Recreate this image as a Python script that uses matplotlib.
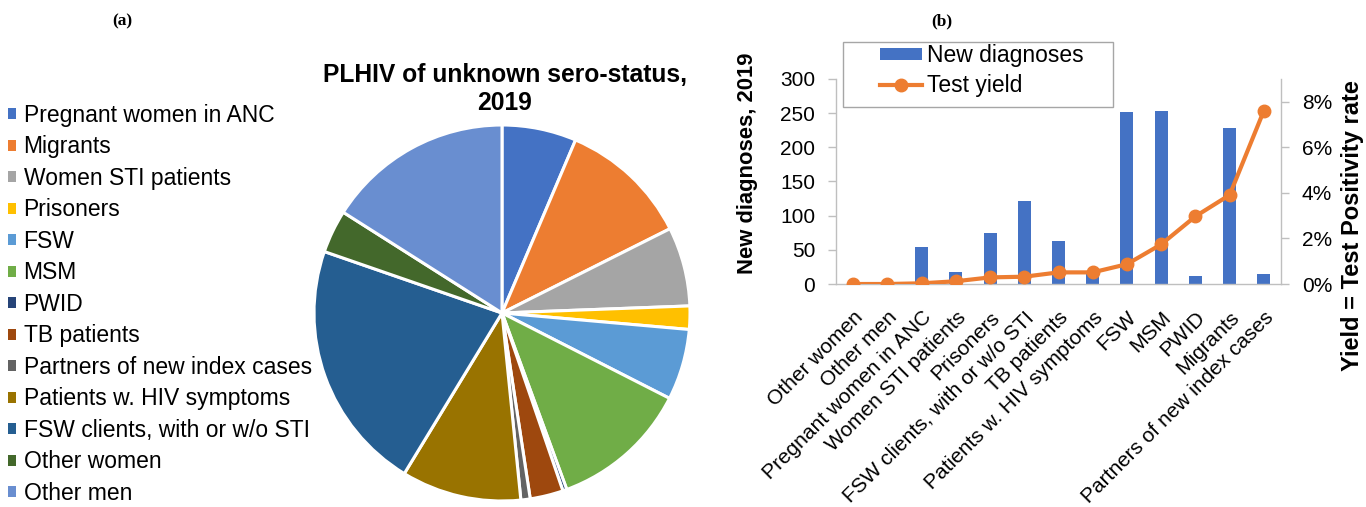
import matplotlib
matplotlib.use("Agg")
import matplotlib.pyplot as plt
from matplotlib.patches import Patch, Rectangle
from matplotlib.lines import Line2D
from matplotlib.ticker import FuncFormatter, MultipleLocator

plt.rcParams["font.family"] = ["Liberation Sans", "DejaVu Sans"]

# share of PLHIV with unknown sero-status by group, 2019 (%)
PIE_GROUPS = [
    "Pregnant women in ANC", "Migrants", "Women STI patients", "Prisoners",
    "FSW", "MSM", "PWID", "TB patients", "Partners of new index cases",
    "Patients w. HIV symptoms", "FSW clients, with or w/o STI",
    "Other women", "Other men",
]
PIE_SHARES = [6.4, 11.2, 6.8, 2.0, 6.1, 11.9, 0.35, 2.85, 0.8, 10.3, 21.6, 3.7, 16.0]
PIE_COLORS = [
    "#4472C4", "#ED7D31", "#A5A5A5", "#FFC000", "#5B9BD5", "#70AD47",
    "#264478", "#9E480E", "#636363", "#997300", "#255E91", "#43682B", "#698ED0",
]

# new diagnoses and test yield per group, 2019
BAR_GROUPS = [
    "Other women", "Other men", "Pregnant women in ANC", "Women STI patients",
    "Prisoners", "FSW clients, with or w/o STI", "TB patients",
    "Patients w. HIV symptoms", "FSW", "MSM", "PWID", "Migrants",
    "Partners of new index cases",
]
NEW_DIAGNOSES = [2, 3, 54, 18, 75, 122, 63, 16, 252, 253, 12, 228, 15]
TEST_YIELD = [0.0, 0.0, 0.03, 0.12, 0.29, 0.32, 0.51, 0.51, 0.87, 1.74, 2.97, 3.91, 7.61]

BLUE = "#4472C4"
ORANGE = "#ED7D31"
AXIS_GREY = "#BFBFBF"

W, H = 1366, 507
fig = plt.figure(figsize=(W / 100, H / 100), dpi=100)


def px_axes(x0, y0, x1, y1):
    # axes from pixel box (top-left origin)
    return fig.add_axes([x0 / W, 1 - y1 / H, (x1 - x0) / W, (y1 - y0) / H])


def fx(px):
    return px / W


def fy(py):
    return 1 - py / H


# ---- (a) pie ----
cx, cy, r = 502, 313, 188
ax_pie = px_axes(cx - r, cy - r, cx + r, cy + r)
wedges, _ = ax_pie.pie(
    PIE_SHARES, colors=PIE_COLORS, startangle=90, counterclock=False,
    wedgeprops=dict(edgecolor="white", linewidth=2.2),
)
ax_pie.set_xlim(-1, 1)
ax_pie.set_ylim(-1, 1)
ax_pie.set_aspect("equal")
fig.text(fx(505), fy(89), "PLHIV of unknown sero-status,\n2019",
         ha="center", va="center", fontsize=17.7, fontweight="bold",
         linespacing=1.22)

handles = [Patch(facecolor=c, edgecolor="none") for c in PIE_COLORS]
fig.legend(handles, PIE_GROUPS, loc="upper left",
           bbox_to_anchor=(fx(8), fy(104)), frameon=False,
           fontsize=16.5, handlelength=0.36, handleheight=0.36,
           handletextpad=0.32, labelspacing=0.37, borderaxespad=0,
           borderpad=0)

# ---- (b) bars + yield line ----
ax = px_axes(836, 79, 1281, 284)
x = range(len(BAR_GROUPS))
ax.bar(x, NEW_DIAGNOSES, width=0.38, color=BLUE, zorder=2)
ax.set_xlim(-0.5, len(BAR_GROUPS) - 0.5)
ax.set_ylim(0, 300)
ax.yaxis.set_major_locator(MultipleLocator(50))
ax.set_xticks(list(x))
ax.set_xticklabels(BAR_GROUPS, rotation=45, ha="right", va="top",
                   rotation_mode="anchor", fontsize=15)
ax.tick_params(axis="x", length=0, pad=17)
ax.tick_params(axis="y", length=6, width=1, color=AXIS_GREY, labelsize=15, pad=9)
for side in ("top", "right"):
    ax.spines[side].set_visible(False)
for side in ("left", "bottom"):
    ax.spines[side].set_color(AXIS_GREY)
    ax.spines[side].set_linewidth(1)

ax2 = ax.twinx()
ax2.plot(x, TEST_YIELD, color=ORANGE, linewidth=3, marker="o", markersize=9,
         zorder=3)
ax2.set_ylim(0, 9)
ax2.set_yticks([0, 2, 4, 6, 8])
ax2.yaxis.set_major_formatter(FuncFormatter(lambda v, _: f"{v:.0f}%"))
ax2.tick_params(axis="y", length=6, width=1, color=AXIS_GREY, labelsize=15, pad=9)
for side in ("top", "left", "bottom"):
    ax2.spines[side].set_visible(False)
ax2.spines["right"].set_color(AXIS_GREY)
ax2.spines["right"].set_linewidth(1)

fig.text(fx(748), fy(163), "New diagnoses, 2019", rotation=90,
         ha="center", va="center", fontsize=15.8, fontweight="bold")
fig.text(fx(1353), fy(226), "Yield = Test Positivity rate", rotation=90,
         ha="center", va="center", fontsize=17, fontweight="bold")

# legend for (b): frame drawn separately so the entries can sit inset
fig.patches.append(Rectangle((fx(843), fy(107)), fx(1113) - fx(843),
                             fy(42) - fy(107), transform=fig.transFigure,
                             facecolor="white", edgecolor="#A6A6A6",
                             linewidth=1, zorder=4))
leg_handles = [
    Patch(facecolor=BLUE, edgecolor="none"),
    Line2D([], [], color=ORANGE, linewidth=3, marker="o", markersize=9),
]
leg = fig.legend(leg_handles, ["New diagnoses", "Test yield"], loc="upper left",
                 bbox_to_anchor=(fx(880), fy(44)), fontsize=16.5,
                 frameon=False, borderaxespad=0, borderpad=0,
                 handlelength=1.85, handleheight=0.45,
                 handletextpad=0.2, labelspacing=0.3)
leg.set_zorder(5)

# panel tags
fig.text(fx(122), fy(21), "(a)", ha="center", va="center", fontsize=12.5,
         fontweight="bold", family=["Liberation Serif", "DejaVu Serif"])
fig.text(fx(942), fy(21), "(b)", ha="center", va="center", fontsize=12.5,
         fontweight="bold", family=["Liberation Serif", "DejaVu Serif"])

fig.savefig("out.png", dpi=100)
